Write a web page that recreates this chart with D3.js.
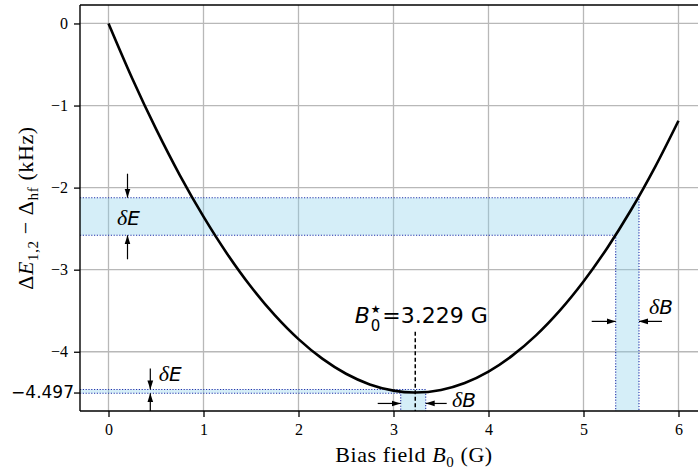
<!DOCTYPE html>
<html>
<head>
<meta charset="utf-8">
<script src="https://cdn.jsdelivr.net/npm/d3@7"></script>
<style>
  body { margin: 0; background: #fff; }
  svg { display: block; }
</style>
</head>
<body>
<div id="container"></div>
<script>
/* CONSTANTS AND GLOBALS */
const width = 698,
  height = 472,
  margin = { top: 5, bottom: 61, left: 80, right: -9 };

// curve values (B in G, dE in kHz)
const fieldB = [0, 0.25, 0.5, 0.75, 1, 1.25, 1.5, 1.75, 2, 2.25, 2.5, 2.75, 3, 3.229,
  3.5, 3.75, 4, 4.25, 4.5, 4.75, 5, 5.25, 5.5, 5.75, 6];
const deltaE = [0, -0.67, -1.285, -1.847, -2.354, -2.808, -3.208, -3.554, -3.846, -4.084,
  -4.268, -4.398, -4.474, -4.497, -4.465, -4.38, -4.241, -4.047, -3.8, -3.499, -3.144,
  -2.735, -2.273, -1.756, -1.185];

const xTicks = [0, 1, 2, 3, 4, 5, 6];
const yTicks = [0, -1, -2, -3, -4];
const bStar = 3.229;
const eMin = -4.497;

// sensitivity bands: [E low, E high, B left, B right]
const bandSteep = [-2.581, -2.123, 5.339, 5.584];
const bandMin = [-4.505, -4.46, 3.076, 3.339];

const xDomain = [-0.3, 6.3];
const yDomain = [-4.722, 0.225];

/* SCALES */
const xScale = d3.scaleLinear()
  .domain(xDomain)
  .range([margin.left, width - margin.right]);

const yScale = d3.scaleLinear()
  .domain(yDomain)
  .range([height - margin.bottom, margin.top]);

/* SVG */
const svg = d3.select("#container")
  .append("svg")
  .attr("width", width)
  .attr("height", height);

const defs = svg.append("defs");
defs.append("marker")
  .attr("id", "head")
  .attr("viewBox", "0 0 10 10")
  .attr("refX", 10).attr("refY", 5)
  .attr("markerWidth", 9).attr("markerHeight", 9)
  .attr("markerUnits", "userSpaceOnUse")
  .attr("orient", "auto")
  .append("path")
  .attr("d", "M0,1.8 L10,5 L0,8.2 Z")
  .attr("fill", "#000");

defs.append("clipPath").attr("id", "plotclip")
  .append("rect")
  .attr("x", margin.left).attr("y", margin.top)
  .attr("width", width - margin.right - margin.left)
  .attr("height", height - margin.bottom - margin.top);

const plot = svg.append("g").attr("clip-path", "url(#plotclip)");

// GRID
plot.selectAll(".gx")
  .data(xTicks)
  .join("line")
  .attr("x1", d => xScale(d)).attr("x2", d => xScale(d))
  .attr("y1", yScale(yDomain[0])).attr("y2", yScale(yDomain[1]))
  .attr("stroke", "#b8b8b8").attr("stroke-width", 1.3);

plot.selectAll(".gy")
  .data(yTicks)
  .join("line")
  .attr("y1", d => yScale(d)).attr("y2", d => yScale(d))
  .attr("x1", xScale(xDomain[0])).attr("x2", xScale(xDomain[1]))
  .attr("stroke", "#b8b8b8").attr("stroke-width", 1.3);

// BANDS
function drawBand(b) {
  const [lo, hi, bl, br] = b;
  const pts = [[xDomain[0], hi], [br, hi], [br, yDomain[0]], [bl, yDomain[0]], [bl, lo], [xDomain[0], lo]];
  plot.append("path")
    .attr("d", d3.line().x(d => xScale(d[0])).y(d => yScale(d[1]))(pts) + "Z")
    .attr("fill", "#87ceeb")
    .attr("fill-opacity", 0.35);
  const edges = [
    [[xDomain[0], hi], [br, hi], [br, yDomain[0]]],
    [[xDomain[0], lo], [bl, lo], [bl, yDomain[0]]]
  ];
  edges.forEach(e => {
    plot.append("path")
      .attr("d", d3.line().x(d => xScale(d[0])).y(d => yScale(d[1]))(e))
      .attr("fill", "none")
      .attr("stroke", "#2233aa")
      .attr("stroke-width", 1.1)
      .attr("stroke-dasharray", "1.2,1.6");
  });
}
drawBand(bandSteep);
drawBand(bandMin);

// CURVE
const pts = fieldB.map((b, i) => ({ b: b, e: deltaE[i] }));
const lineGen = d3.line()
  .x(d => xScale(d.b))
  .y(d => yScale(d.e))
  .curve(d3.curveCatmullRom);

plot.append("path")
  .datum(pts)
  .attr("fill", "none")
  .attr("stroke", "#000")
  .attr("stroke-width", 2.6)
  .attr("d", lineGen);

// dashed marker at B*
plot.append("line")
  .attr("x1", xScale(bStar)).attr("x2", xScale(bStar))
  .attr("y1", yScale(-3.757)).attr("y2", yScale(yDomain[0]))
  .attr("stroke", "#000").attr("stroke-width", 1.5)
  .attr("stroke-dasharray", "4,2.5");

// ARROWS
function arrow(x1, y1, x2, y2) {
  svg.append("line")
    .attr("x1", x1).attr("y1", y1).attr("x2", x2).attr("y2", y2)
    .attr("stroke", "#000").attr("stroke-width", 1.2)
    .attr("marker-end", "url(#head)");
}
// vertical dE arrows
const ax1 = xScale(0.2);
arrow(ax1, yScale(bandSteep[1]) - 24, ax1, yScale(bandSteep[1]));
arrow(ax1, yScale(bandSteep[0]) + 24, ax1, yScale(bandSteep[0]));
const ax2 = xScale(0.44);
arrow(ax2, yScale(bandMin[1]) - 21, ax2, yScale(bandMin[1]));
arrow(ax2, yScale(yDomain[0]), ax2, yScale(bandMin[0]));
// horizontal dB arrows
const ay1 = yScale(-3.63);
arrow(xScale(bandSteep[2]) - 24, ay1, xScale(bandSteep[2]), ay1);
arrow(xScale(bandSteep[3]) + 23, ay1, xScale(bandSteep[3]), ay1);
const ay2 = yScale(-4.63);
arrow(xScale(bandMin[2]) - 23, ay2, xScale(bandMin[2]), ay2);
arrow(xScale(bandMin[3]) + 21, ay2, xScale(bandMin[3]), ay2);

// LABELS IN PLOT
function deltaLabel(x, y, letter) {
  const t = svg.append("text")
    .attr("x", x).attr("y", y)
    .attr("font-family", "DejaVu Sans")
    .attr("font-size", 20);
  t.append("tspan").attr("font-family", "Liberation Serif").attr("font-style", "italic").attr("font-size", 22).text("δ");
  t.append("tspan").attr("font-style", "italic").text(letter);
}
deltaLabel(xScale(0.09), yScale(-2.45), "E");
deltaLabel(xScale(0.53), yScale(-4.36), "E");
deltaLabel(xScale(3.615), yScale(-4.67), "B");
deltaLabel(xScale(5.69), yScale(-3.54), "B");

const bl = svg.append("text")
  .attr("x", xScale(bStar) + 6).attr("y", yScale(-3.65))
  .attr("text-anchor", "middle")
  .attr("font-family", "DejaVu Sans")
  .attr("font-size", 22);
bl.append("tspan").attr("font-style", "italic").text("B");
bl.append("tspan").attr("font-size", 11).attr("dy", -10).attr("dx", 1).text("★");
bl.append("tspan").attr("font-size", 15).attr("dy", 18).attr("dx", -10).text("0");
bl.append("tspan").attr("dy", -8).attr("dx", 2).text("=3.229 G");

// SPINES
svg.append("line")
  .attr("x1", margin.left).attr("x2", margin.left)
  .attr("y1", margin.top).attr("y2", height - margin.bottom)
  .attr("stroke", "#000").attr("stroke-width", 1.4);
svg.append("line")
  .attr("x1", margin.left).attr("x2", width)
  .attr("y1", height - margin.bottom).attr("y2", height - margin.bottom)
  .attr("stroke", "#000").attr("stroke-width", 1.4);
svg.append("line")
  .attr("x1", margin.left).attr("x2", width)
  .attr("y1", margin.top).attr("y2", margin.top)
  .attr("stroke", "#000").attr("stroke-width", 1.4);

// AXES
const xAxis = d3.axisBottom(xScale)
  .tickValues(xTicks)
  .tickSize(6).tickPadding(7)
  .tickFormat(d => d);
const gx = svg.append("g")
  .attr("transform", `translate(0,${height - margin.bottom})`)
  .call(xAxis);
gx.select(".domain").remove();
gx.selectAll("line").attr("stroke-width", 1.3);
gx.selectAll("text")
  .attr("font-family", "Liberation Serif")
  .attr("font-size", 16)
  .attr("fill", "#000");

const yAxis = d3.axisLeft(yScale)
  .tickValues(yTicks.concat([eMin]))
  .tickSize(6).tickPadding(6)
  .tickFormat(d => d === eMin ? "−4.497" : (d === 0 ? "0" : "−" + Math.abs(d)));
const gy = svg.append("g")
  .attr("transform", `translate(${margin.left},0)`)
  .call(yAxis);
gy.select(".domain").remove();
gy.selectAll("line").attr("stroke-width", 1.3);
gy.selectAll("text")
  .attr("font-family", d => d === eMin ? "DejaVu Sans" : "Liberation Serif")
  .attr("font-size", d => d === eMin ? 17 : 16)
  .attr("dx", d => d === eMin ? 6 : 0)
  .attr("fill", "#000");

// AXIS TITLES
const xt = svg.append("text")
  .attr("x", 414).attr("y", 462)
  .attr("text-anchor", "middle")
  .attr("font-family", "Liberation Serif")
  .attr("font-size", 22)
  .attr("letter-spacing", 0.6);
xt.append("tspan").text("Bias field  ");
xt.append("tspan").attr("font-style", "italic").text("B");
xt.append("tspan").attr("font-size", 15).attr("dy", 5).text("0");
xt.append("tspan").attr("dy", -5).text(" (G)");

const yt = svg.append("text")
  .attr("transform", `translate(33,${(margin.top + height - margin.bottom) / 2}) rotate(-90)`)
  .attr("text-anchor", "middle")
  .attr("font-family", "Liberation Serif")
  .attr("font-size", 22)
  .attr("letter-spacing", 0.6);
yt.append("tspan").text("Δ");
yt.append("tspan").attr("font-style", "italic").text("E");
yt.append("tspan").attr("font-size", 15).attr("dy", 5).text("1,2");
yt.append("tspan").attr("dy", -5).text(" − Δ");
yt.append("tspan").attr("font-size", 15).attr("dy", 5).text("hf");
yt.append("tspan").attr("dy", -5).text(" (kHz)");
</script>
</body>
</html>
